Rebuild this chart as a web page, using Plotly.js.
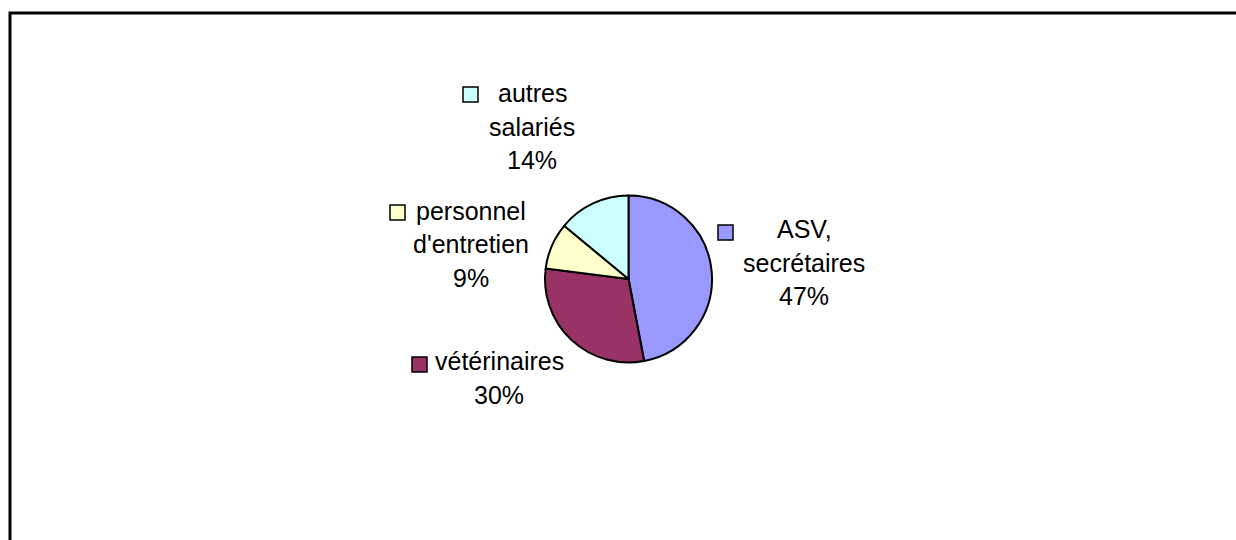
<!DOCTYPE html>
<html>
<head>
<meta charset="utf-8">
<script src="https://cdn.plot.ly/plotly-3.0.1.min.js"></script>
<style>
html,body{margin:0;padding:0;background:#fff;}
#chart{width:1236px;height:540px;}
</style>
</head>
<body>
<div id="chart"></div>
<script>
// ---- data ----
const categories = ['ASV, secrétaires', 'vétérinaires', "personnel d'entretien", 'autres salariés'];
const values = [47, 30, 9, 14];
const sliceColors = ['#9999FF', '#993366', '#FFFFCC', '#CCFFFF'];

// ---- layout helpers (pixel -> paper) ----
const W = 1236, H = 540;
const px = x => x / W;
const py = y => 1 - y / H;

// label block placement: centre x, first baseline y, key square left/top
const labelPlace = [
  {cx: 804, base: 238, kx: 718, ky: 225},
  {cx: 499, base: 370, kx: 412, ky: 357},
  {cx: 471, base: 220, kx: 390, ky: 205},
  {cx: 532, base: 102, kx: 463, ky: 87}
];
const lineGap = 33.5;
const fontSize = 25;
const keySize = 15;

const total = values.reduce((a, b) => a + b, 0);
const annotations = [];
const shapes = [];

categories.forEach((cat, i) => {
  const p = labelPlace[i];
  const lines = cat.split(' ').concat([Math.round(values[i] / total * 100) + '%']);
  lines.forEach((t, j) => {
    const yc = p.base + j * lineGap - 9;
    annotations.push({
      text: t, x: px(p.cx), y: py(yc), xref: 'paper', yref: 'paper',
      xanchor: 'center', yanchor: 'middle', showarrow: false,
      font: {family: 'Liberation Sans, Arial, sans-serif', size: fontSize, color: '#000'}
    });
  });
  shapes.push({
    type: 'rect', xref: 'paper', yref: 'paper',
    x0: px(p.kx), x1: px(p.kx + keySize), y0: py(p.ky + keySize), y1: py(p.ky),
    fillcolor: sliceColors[i], line: {color: '#000', width: 1.5}
  });
});

// outer frame (top and left edges visible)
shapes.push({
  type: 'rect', xref: 'paper', yref: 'paper',
  x0: px(10), x1: 1.05, y0: -0.05, y1: py(13),
  line: {color: '#000', width: 3}, fillcolor: 'rgba(0,0,0,0)', layer: 'above'
});

const cx = 628.5, cy = 279, r = 83.5;

const trace = {
  type: 'pie',
  labels: categories,
  values: values,
  sort: false,
  direction: 'clockwise',
  rotation: 0,
  textinfo: 'none',
  hoverinfo: 'skip',
  marker: {colors: sliceColors, line: {color: '#000', width: 2}},
  domain: {x: [px(cx - r), px(cx + r)], y: [py(cy + r), py(cy - r)]},
  showlegend: false
};

const layout = {
  width: W, height: H,
  margin: {l: 0, r: 0, t: 0, b: 0},
  paper_bgcolor: '#fff',
  showlegend: false,
  annotations: annotations,
  shapes: shapes
};

Plotly.newPlot('chart', [trace], layout, {displayModeBar: false, staticPlot: true});
</script>
</body>
</html>
